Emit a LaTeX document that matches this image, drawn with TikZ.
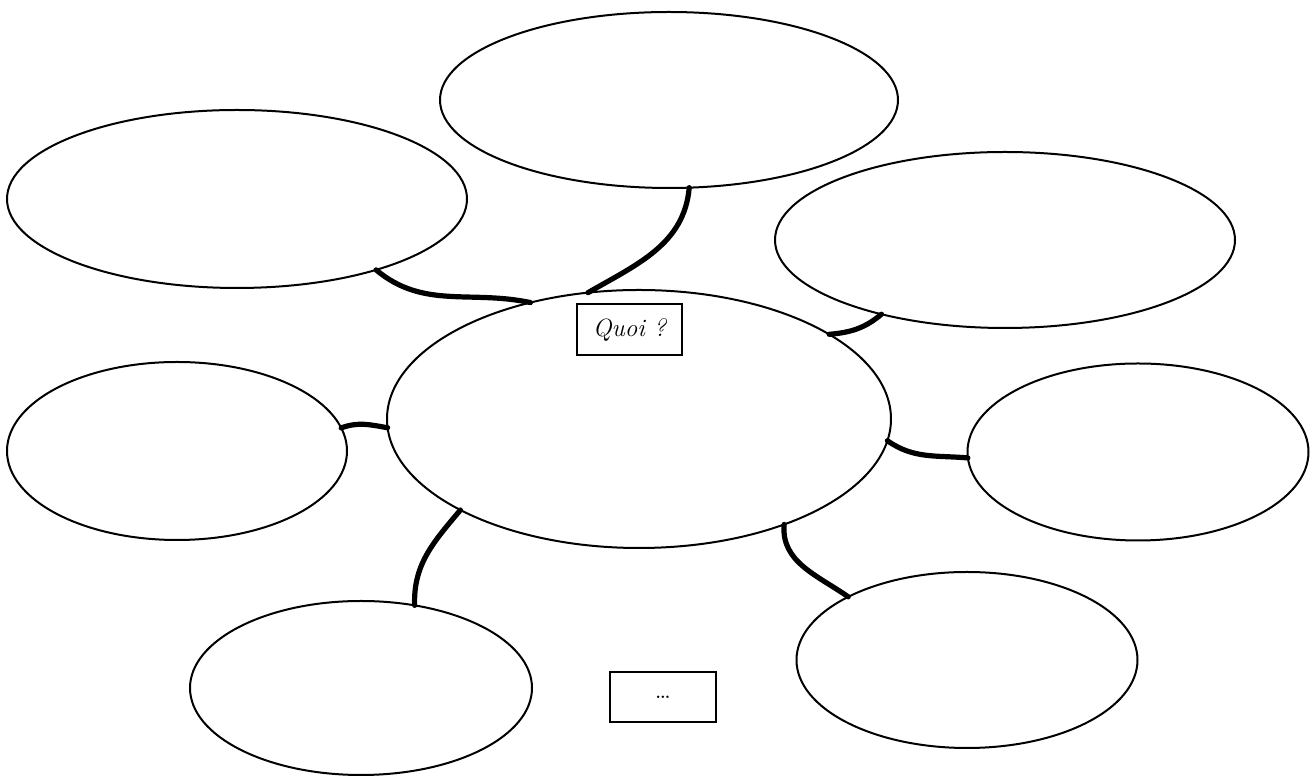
\documentclass[tikz,border=0pt]{standalone}
\usetikzlibrary{shapes.geometric}

\tikzset{bulle/.style={ellipse,draw,line width=1pt,inner sep=0pt,outer sep=0pt},
         lien/.style={line width=2.6pt,line cap=round},
         cadre/.style={draw,line width=1.2pt,inner sep=0pt,outer sep=0pt,font=\fontsize{12.5}{14}\selectfont}}

\begin{document}
\begin{tikzpicture}[x=0.5pt,y=0.5pt]
                  \useasboundingbox (0,0) rectangle (1314,776);
                  \node[bulle,minimum width=458pt/2,minimum height=176pt/2] (haut) at (669,676) {};
                  \node[bulle,minimum width=460pt/2,minimum height=178pt/2] (hautg) at (237,577) {};
                  \node[bulle,minimum width=460pt/2,minimum height=176pt/2] (hautd) at (1005,536) {};
                  \node[bulle,minimum width=504pt/2,minimum height=258pt/2] (quoi) at (639,357) {};
                  \node[bulle,minimum width=340pt/2,minimum height=178pt/2] (gauche) at (177,325) {};
                  \node[bulle,minimum width=341pt/2,minimum height=177pt/2] (droite) at (1138,324) {};
                  \node[bulle,minimum width=342pt/2,minimum height=174pt/2] (basg) at (361,88) {};
                  \node[bulle,minimum width=341pt/2,minimum height=176pt/2] (basd) at (967,116) {};
                  \node[cadre,minimum width=105pt/2,minimum height=51pt/2] (titre) at (629.5,446.5) {\itshape Quoi ?};
                  \node[cadre,minimum width=106pt/2,minimum height=50pt/2] (suite) at (663,79) {\dots};
                  \draw[lien] (hautg.-27) to[out=-40,in=168] (quoi.133);
                  \draw[lien] (haut.-77) to[out=-95,in=30] (quoi.112);
                  \draw[lien] (hautd.-149) to[out=-140,in=5] (quoi.24);
                  \draw[lien] (gauche.8) to[out=20,in=170] (quoi.182);
                  \draw[lien] (quoi.-5) to[out=-35,in=175] (droite.182);
                  \draw[lien] (quoi.207) to[out=-130,in=92] (basg.57);
                  \draw[lien] (quoi.-36) to[out=-95,in=145] (basd.152);
              \end{tikzpicture}
\end{document}
